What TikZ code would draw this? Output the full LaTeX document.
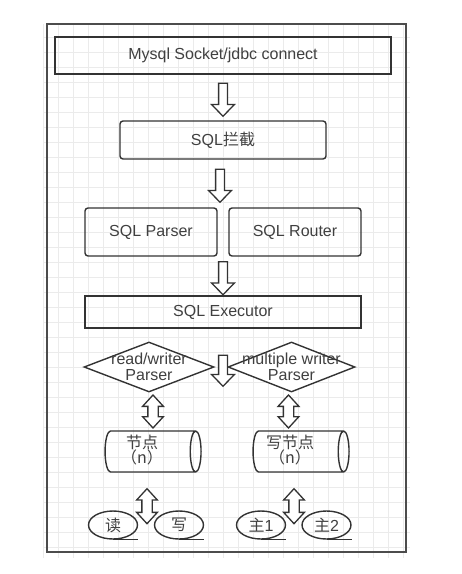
\documentclass[tikz,border=0pt]{standalone}
\usepackage{fontspec}
\setmainfont{Liberation Sans}
\newfontfamily\cjk{Noto Sans CJK SC}
\usetikzlibrary{shapes.geometric,shapes.arrows,calc}

\newcommand{\storetext}[1]{\begin{tabular}{@{}c@{}}#1\end{tabular}\hspace*{16pt}}

\begin{document}
\begin{tikzpicture}[x=1pt,y=-1pt,font=\fontsize{16}{16}\selectfont]

\def\boxline{1.4pt}

\tikzstyle{plain}=[draw=black!80,line width=\boxline,text=black!75,inner sep=0pt]
\tikzstyle{block}=[plain,rectangle]
\tikzstyle{rblock}=[block,rounded corners=3pt]
\tikzstyle{choice}=[plain,diamond,minimum width=130pt,minimum height=50pt,fill=white]
\tikzstyle{store}=[plain,cylinder,aspect=0.33,minimum width=41pt,minimum height=96pt]
\tikzstyle{seq}=[plain,ellipse,minimum width=49pt,minimum height=28pt]
\tikzstyle{down}=[draw=black!80,line width=1.3pt,fill=white,single arrow,shape border rotate=270,
  minimum height=33pt,minimum width=22pt,inner sep=3.75pt,single arrow head extend=7pt,single arrow tip angle=88]
\tikzstyle{both}=[draw=black!80,line width=1.3pt,fill=white,double arrow,shape border rotate=90,
  minimum height=33pt,minimum width=19.5pt,inner sep=4.5pt,double arrow head extend=5.25pt,double arrow tip angle=85]

\useasboundingbox (0,0) rectangle (462,574);

%grid
\begin{scope}
\clip (43,24) rectangle (410,558);
\foreach \k in {0,...,24} \draw[black!8,line width=0.8pt] (43.3+15*\k,24) -- (43.3+15*\k,558);
\foreach \k in {0,...,35} \draw[black!8,line width=0.8pt] (43,37.5+15*\k) -- (410,37.5+15*\k);
\end{scope}
\draw[black!70,line width=2pt] (47,24) rectangle (406,552);

%top
\node[block,minimum width=336pt,minimum height=37pt] (conn) at (223,55.5) {Mysql Socket/jdbc connect};
\node[rblock,minimum width=206pt,minimum height=38pt] (intercept) at (223,140) {SQL{\cjk 拦截}};
\node[rblock,minimum width=132pt,minimum height=48pt] (parser) at (151,232) {SQL Parser};
\node[rblock,minimum width=132pt,minimum height=48pt] (router) at (295,232) {SQL Router};
\node[block,minimum width=276pt,minimum height=32pt] (exec) at (223,312) {SQL Executor};

\node[down] (a1) at ($(conn.south)!0.5!(intercept.north)$) {};
\node[down] (a2) at ($(intercept.south)!0.5!(intercept.south|-parser.north)+(-3,0)$) {};
\node[down] (a3) at ($(exec.north)!0.5!(exec.north|-parser.south)$) {};

%parsers
\node[choice,label={[align=center,text=black!75]center:read/writer\\Parser}] (rw) at (149,367) {};
\node[choice,minimum width=127pt,label={[align=center,text=black!75]center:multiple writer\\Parser}] (mw) at (291.5,367) {};
\node[down,minimum height=31pt] (a4) at (223,368.5) {};

%nodes
\node[store] (rnodes) at (150,451.5) {\storetext{{\cjk 节点}\\[-4pt]{\cjk （n）}}};
\node[store] (wnodes) at (298,451.5) {\storetext{{\cjk 写节点}\\[-4pt]{\cjk （n）}}};
\node[both] (d1) at ($(rw.south)!0.5!(rw.south|-rnodes.north)+(4,0)$) {};
\node[both] (d2) at ($(mw.south)!0.5!(mw.south|-wnodes.north)+(-3,0)$) {};

%leaves
\node[seq] (read) at (113,525) {\cjk 读};
\node[seq] (write) at (179,525) {\cjk 写};
\node[seq] (m1) at (261,525) {{\cjk 主}1};
\node[seq] (m2) at (326.5,525) {{\cjk 主}2};
\foreach \n in {read,write,m1,m2} \draw[draw=black!80,line width=\boxline] (\n.south) -- (\n.south -| \n.east);

\node[both,minimum height=35pt] (d3) at ($(rnodes.south)!0.5!(rnodes.south|-read.south)+(-3,0)$) {};
\node[both,minimum height=35pt] (d4) at ($(wnodes.south)!0.5!(wnodes.south|-m1.south)+(-4,0)$) {};

\end{tikzpicture}
\end{document}
